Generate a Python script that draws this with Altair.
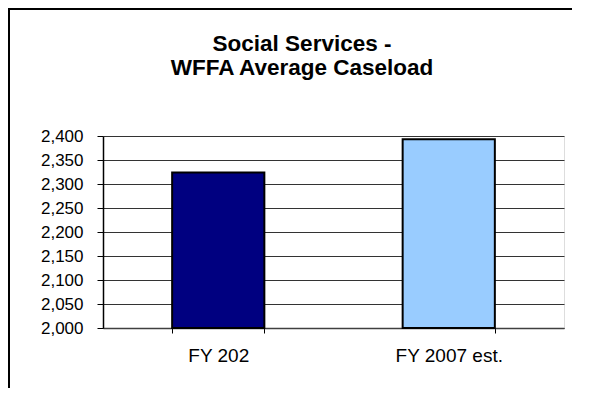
import altair as alt
import pandas as pd

categories = ["FY 202", "FY 2007 est."]
caseload = [2324, 2393]
bar_colors = ["#000080", "#99CCFF"]
y_ticks = [2000, 2050, 2100, 2150, 2200, 2250, 2300, 2350, 2400]
title_lines = ["Social Services -", "WFFA Average Caseload"]

FONT = "Liberation Sans"

df = pd.DataFrame({"cat": categories, "val": caseload, "color": bar_colors})

W, H = 461, 192
PL, PT, PR, PB = 95, 128, 8, 60

bars = alt.Chart(df).mark_bar(stroke="black", strokeWidth=2).encode(
    x=alt.X("cat:N", sort=categories,
            scale=alt.Scale(paddingInner=0.6, paddingOuter=0.3),
            axis=alt.Axis(title=None, labelAngle=0, labelFont=FONT, labelFontSize=19,
                          labelColor="black", labelPadding=13, tickBand="extent",
                          tickSize=5, tickColor="black", domainColor="#404040",
                          domainWidth=1.5, grid=False)),
    y=alt.Y("val:Q",
            scale=alt.Scale(domain=[2000, 2400], zero=False, nice=False),
            axis=alt.Axis(title=None, values=y_ticks, format=",d", labelFont=FONT,
                          labelFontSize=17, labelColor="black", labelPadding=14,
                          tickSize=6, tickColor="black", domainColor="black",
                          domainWidth=1.5, gridColor="#333333", gridWidth=1.2,
                          gridOpacity=1)),
    y2=alt.datum(2000),
    color=alt.Color("color:N", scale=None),
)

one = pd.DataFrame({"f": [0]})
left_line = alt.Chart(one).mark_rule(color="black", strokeWidth=2).encode(
    x=alt.value(-PL + 1), y=alt.value(-PT), y2=alt.value(H + PB + 10),
)
top_line = alt.Chart(one).mark_rule(color="black", strokeWidth=2).encode(
    x=alt.value(-PL), x2=alt.value(W + PR + 10), y=alt.value(-PT + 1),
)

title = alt.Chart(pd.DataFrame({"t": ["\n".join(title_lines)]})).mark_text(
    font=FONT, fontSize=22.5, fontWeight="bold", color="black", align="center",
    baseline="alphabetic", lineBreak="\n", lineHeight=24,
).encode(text="t:N", x=alt.value(199), y=alt.value(-85))

chart = alt.layer(bars, left_line, top_line, title).properties(
    width=W, height=H,
    autosize=alt.AutoSizeParams(type="none"),
    padding={"left": PL, "top": PT, "right": PR, "bottom": PB},
).configure_view(stroke="#808080", strokeWidth=2).configure(background="white")

chart.save("out.html", embed_options={"renderer": "svg", "actions": False})
